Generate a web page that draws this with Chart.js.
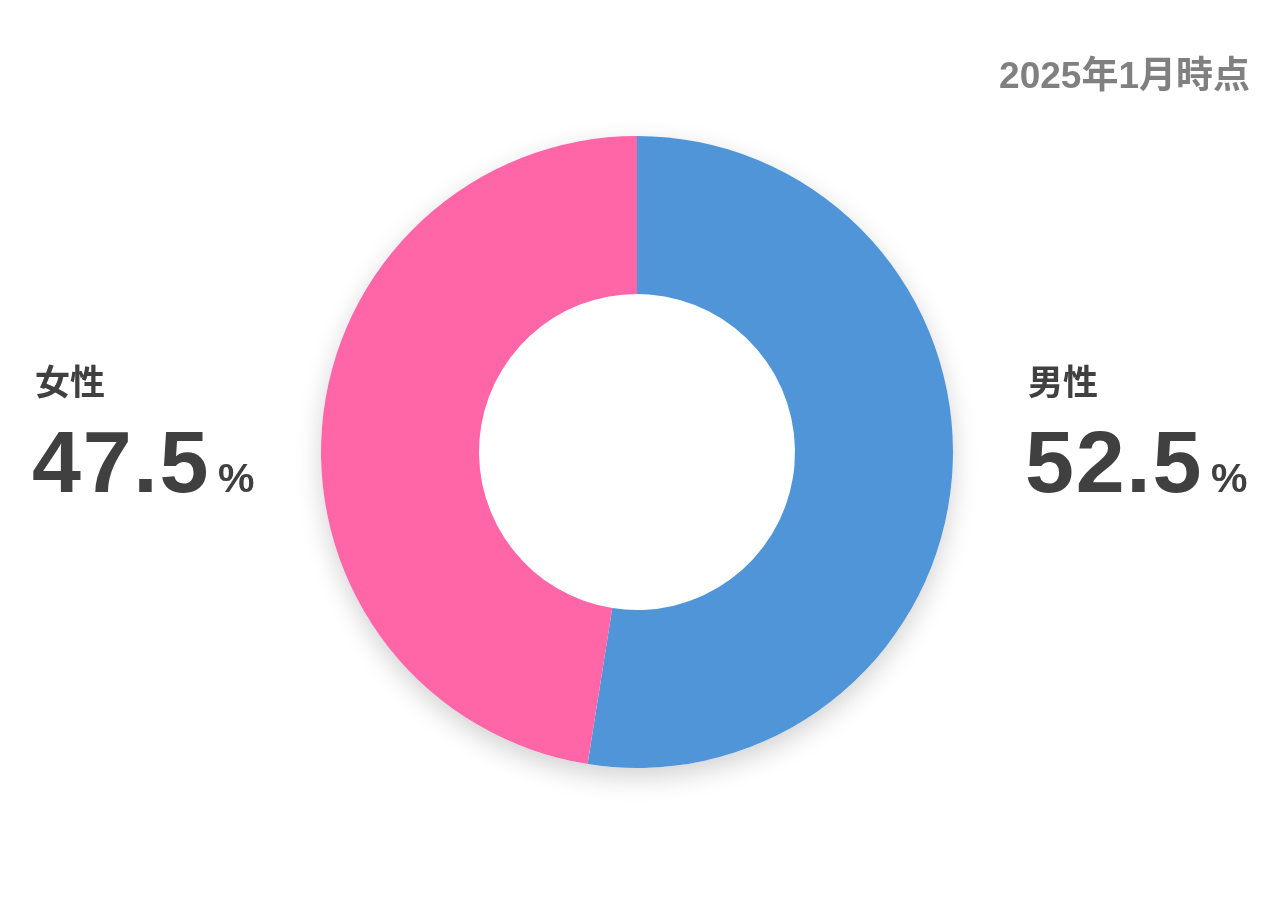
<!DOCTYPE html>
<html lang="ja">
<head>
<meta charset="utf-8">
<script src="https://cdn.jsdelivr.net/npm/chart.js@4"></script>
<style>
  html, body { margin: 0; padding: 0; background: #fff; }
  #wrap { position: relative; width: 1280px; height: 905px; font-family: "Liberation Sans", "Noto Sans CJK JP", sans-serif; }
  #chart { position: absolute; left: 0; top: 0; }
  .note { position: absolute; right: 30px; top: 57px; font-size: 37px; font-weight: 700; color: #808080; line-height: 1; white-space: nowrap; }
  .name { position: absolute; font-family: "Noto Sans CJK JP", sans-serif; font-size: 35px; font-weight: 700; color: #404040; line-height: 1; }
  .val { position: absolute; font-size: 88px; font-weight: 700; color: #404040; line-height: 1; letter-spacing: 1.7px; white-space: nowrap; }
  .val span { font-size: 41px; letter-spacing: 0; margin-left: 8px; }
</style>
</head>
<body>
<div id="wrap">
  <canvas id="chart" width="1280" height="905"></canvas>
  <div class="note" id="note"></div>
</div>
<script>
  const labels = ['男性', '女性'];
  const shares = [52.5, 47.5];
  const colors = ['#4f95d7', '#ff66a8'];
  const noteText = '2025年1月時点';
  // left edge of each label block
  const labelLeft = [1025, 32];

  document.getElementById('note').textContent = noteText;
  const wrap = document.getElementById('wrap');
  labels.forEach(function(name, i) {
    const n = document.createElement('div');
    n.className = 'name';
    n.style.left = (labelLeft[i] + 3) + 'px';
    n.style.top = '362px';
    n.textContent = name;
    wrap.appendChild(n);

    const v = document.createElement('div');
    v.className = 'val';
    v.style.left = labelLeft[i] + 'px';
    v.style.top = '418px';
    v.innerHTML = shares[i].toFixed(1) + '<span>%</span>';
    wrap.appendChild(v);
  });

  // soft drop shadow under the whole ring, drawn once before the slices
  const shadowPlugin = {
    id: 'ringShadow',
    beforeDatasetsDraw: function(chart) {
      const arc = chart.getDatasetMeta(0).data[0];
      if (!arc) return;
      const ctx = chart.ctx;
      ctx.save();
      ctx.shadowColor = 'rgba(0, 0, 0, 0.18)';
      ctx.shadowBlur = 26;
      ctx.shadowOffsetY = 9;
      ctx.fillStyle = '#ffffff';
      ctx.beginPath();
      ctx.arc(arc.x, arc.y, arc.outerRadius, 0, Math.PI * 2);
      ctx.fill();
      ctx.restore();
    }
  };

  new Chart(document.getElementById('chart'), {
    type: 'doughnut',
    data: {
      labels: labels,
      datasets: [{
        data: shares,
        backgroundColor: colors,
        borderWidth: 0
      }]
    },
    options: {
      responsive: false,
      animation: false,
      cutout: '50%',
      layout: { padding: { top: 136, bottom: 137, left: 0, right: 6 } },
      plugins: {
        legend: { display: false },
        tooltip: { enabled: false }
      }
    },
    plugins: [shadowPlugin]
  });
</script>
</body>
</html>
